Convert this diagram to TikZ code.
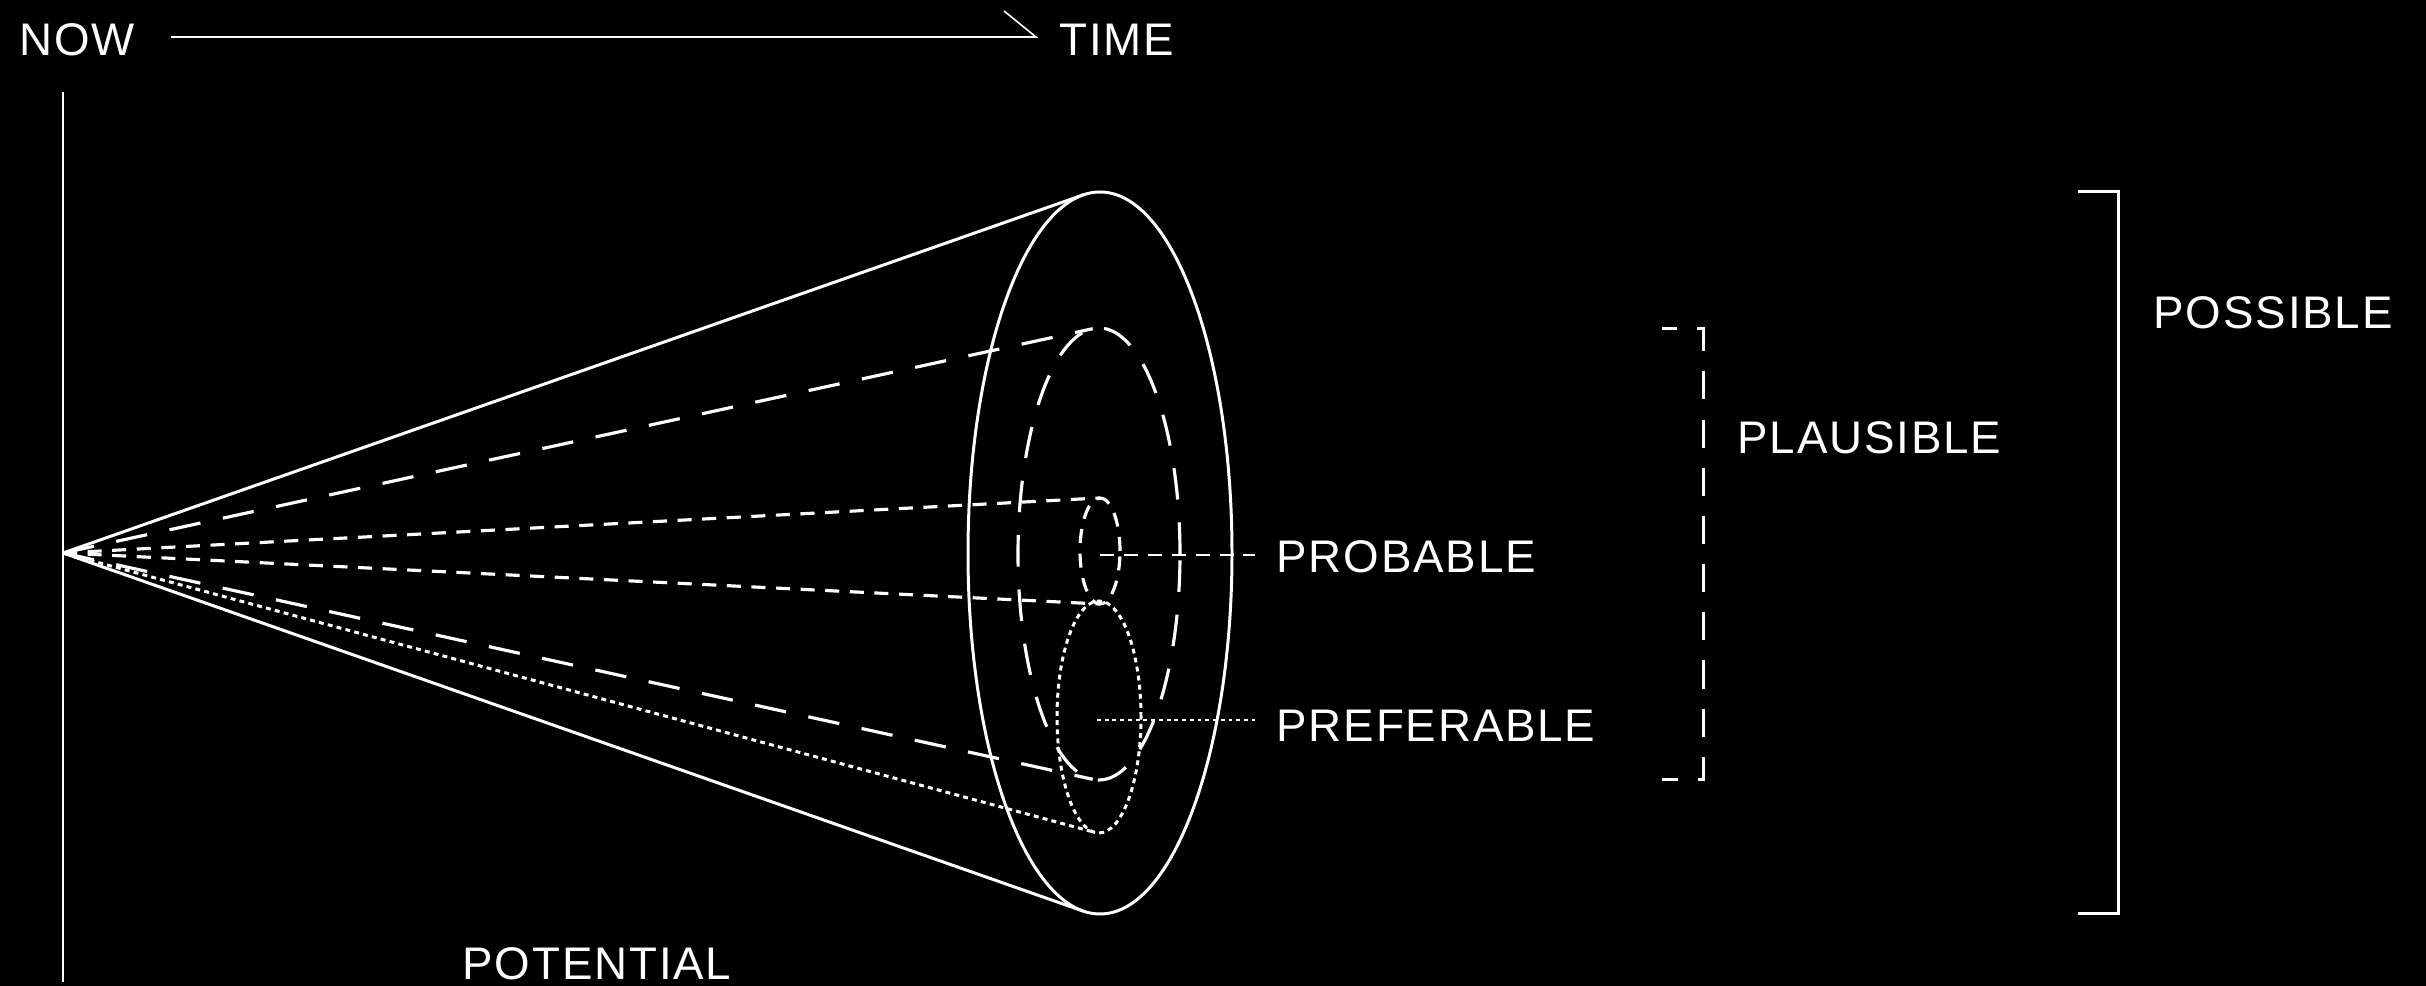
\documentclass[tikz,border=0pt]{standalone}
\usepackage{fontspec}
\setmainfont{Liberation Sans}[LetterSpace=4]
\begin{document}
\begin{tikzpicture}[x=0.01cm,y=0.01cm,line join=miter,
  lbl/.style={text=white,font=\fontsize{13}{15}\selectfont,inner sep=0pt,anchor=base west},
  solidline/.style={draw=white,line width=0.85pt},
  thinline/.style={draw=white,line width=0.45pt},
  longdash/.style={draw=white,line width=0.9pt,dash pattern=on 9pt off 6.5pt},
  shortdash/.style={draw=white,line width=0.9pt,dash pattern=on 4pt off 3pt},
  dotline/.style={draw=white,line width=0.85pt,dash pattern=on 1.4pt off 1.2pt},
  leaderdash/.style={draw=white,line width=0.4pt,dash pattern=on 4pt off 2.8pt},
  leaderdot/.style={draw=white,line width=0.4pt,dash pattern=on 1.1pt off 1.1pt},
  bracketsolid/.style={draw=white,line width=0.85pt},
  bracketdash/.style={draw=white,line width=0.85pt,dash pattern=on 8pt off 5.7pt,dash phase=3.7pt}]
\fill[black] (0,0) rectangle (2426,-986);
\useasboundingbox (0,0) rectangle (2426,-986);

% labels
\node[lbl] (now) at (19,-56) {NOW};
\node[lbl] (time) at (1059,-56) {TIME};
\node[lbl] (prob) at (1276,-573) {PROBABLE};
\node[lbl] (pref) at (1276,-742) {PREFERABLE};
\node[lbl] (plaus) at (1737,-454) {PLAUSIBLE};
\node[lbl] (poss) at (2153,-329) {POSSIBLE};
\node[lbl] (pot) at (462,-980) {POTENTIAL};

% time arrow
\coordinate (tS) at (171,-37);
\coordinate (tE) at (1036,-37);
\coordinate (tB) at (1004,-11);
\draw[thinline] (tS) -- (tE) -- (tB);

% now line
\coordinate (nT) at (63,-92);
\coordinate (nB) at (63,-982);
\draw[thinline] (nT) -- (nB);

% cone
\coordinate (apex) at (63,-553);
\coordinate (outT) at (1083.2,-194.9);
\coordinate (outB) at (1083.2,-911.1);
\coordinate (plT) at (1092.7,-328.7);
\coordinate (plB) at (1092.7,-779.3);
\coordinate (prT) at (1099.6,-498);
\coordinate (prB) at (1099.6,-604);
\coordinate (pfB) at (1094.9,-832.4);

\draw[solidline] (1100,-553) ellipse [x radius=132, y radius=361];
\draw[solidline] (apex) -- (outT);
\draw[solidline] (apex) -- (outB);

\draw[longdash] (1099,-554) ellipse [x radius=81, y radius=226];
\draw[longdash] (apex) -- (plT);
\draw[longdash] (apex) -- (plB);

\draw[shortdash] (1100,-551) ellipse [x radius=20, y radius=53];
\draw[shortdash] (apex) -- (prT);
\draw[shortdash] (apex) -- (prB);

\draw[dotline] (1099,-717) ellipse [x radius=42, y radius=116];
\draw[dotline] (apex) -- (pfB);

% leaders
\coordinate (prC) at (1100,-555);
\coordinate (prE) at (1255,-555);
\draw[leaderdash] (prC) -- (prE);
\coordinate (pfC) at (1097,-720);
\coordinate (pfE) at (1255,-720);
\draw[leaderdot] (pfC) -- (pfE);

% brackets
\coordinate (b1a) at (1662,-329);
\coordinate (b1b) at (1703,-329);
\coordinate (b1c) at (1703,-780);
\coordinate (b1d) at (1662,-780);
\draw[bracketdash] (b1a) -- (b1b) -- (b1c) -- (b1d);
\coordinate (b2a) at (2078,-192);
\coordinate (b2b) at (2118,-192);
\coordinate (b2c) at (2118,-914);
\coordinate (b2d) at (2078,-914);
\draw[bracketsolid] (b2a) -- (b2b) -- (b2c) -- (b2d);
\end{tikzpicture}
\end{document}
